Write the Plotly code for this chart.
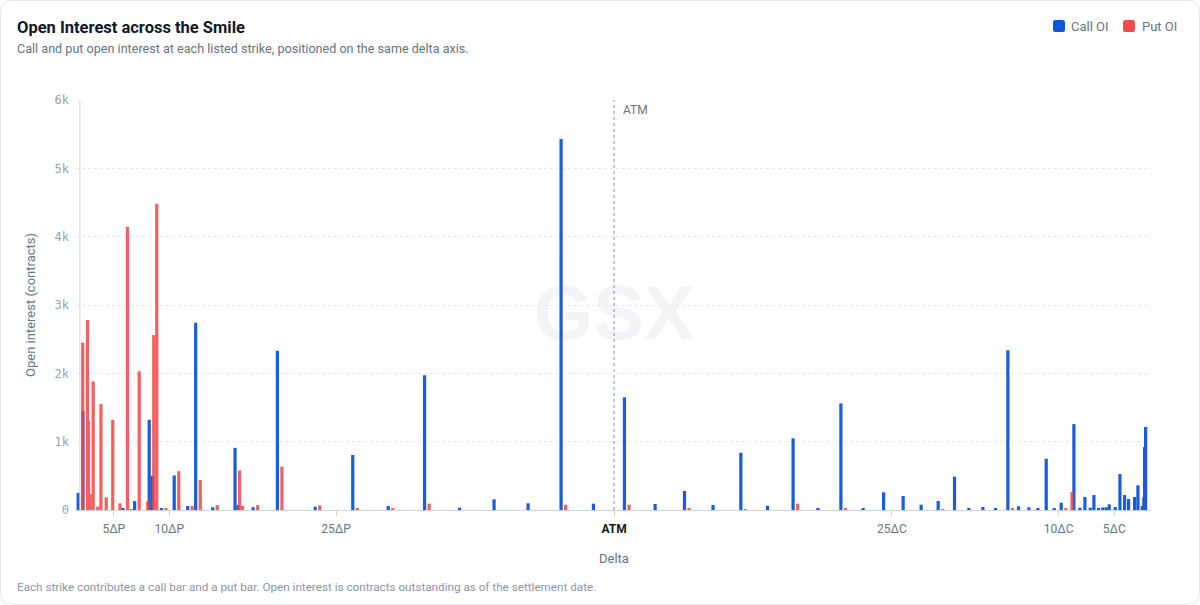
import plotly.graph_objects as go

# Position on the delta axis (5 = 5ΔP, 50 = ATM, 95 = 5ΔC)
DELTA = [2.00, 2.43, 2.52, 2.67, 2.94, 3.35, 3.64, 4.11, 4.70, 5.35,
         6.03, 6.36, 7.08, 7.85, 8.39, 8.66, 9.49, 10.64, 11.85, 12.57,
         14.10, 16.11, 16.38, 17.74, 19.92, 23.32, 26.70, 29.89, 33.16, 36.30,
         39.41, 42.47, 45.44, 48.35, 51.14, 53.90, 56.54, 59.11, 61.61, 64.01,
         66.31, 68.54, 70.61, 72.61, 74.45, 76.21, 77.83, 79.36, 80.83, 82.12,
         83.38, 84.52, 85.63, 86.59, 87.52, 88.33, 89.08, 89.80, 90.43, 90.99,
         91.57, 92.11, 92.56, 93.04, 93.37, 93.79, 94.18, 94.48, 94.75, 95.29,
         95.71, 96.13, 96.49, 97.03, 97.33, 97.72, 97.86, 97.93, 98.02]

CALL_OI = [250, 1445, 0, 0, 0, 0, 0, 0, 0, 0,
           20, 0, 131, 0, 1320, 500, 20, 505, 58, 2740,
           40, 910, 73, 40, 2330, 49, 805, 58, 1972, 34,
           156, 98, 5430, 93, 1650, 88, 278, 73, 838, 63,
           1050, 29, 1560, 15, 259, 205, 78, 132, 488, 29,
           44, 29, 2338, 54, 39, 24, 750, 24, 107, 0,
           1257, 34, 190, 34, 219, 24, 39, 39, 83, 44,
           527, 219, 161, 190, 361, 58, 185, 920, 1215]

PUT_OI = [2450, 2780, 1300, 234, 1880, 50, 1550, 185, 1320, 98,
          4140, 10, 2030, 130, 2560, 4480, 20, 568, 58, 440,
          73, 578, 58, 73, 634, 68, 29, 29, 93, 0,
          0, 0, 78, 0, 78, 0, 29, 0, 10, 0,
          93, 0, 29, 0, 0, 0, 0, 5, 0, 0,
          0, 0, 29, 0, 0, 0, 0, 0, 24, 263,
          0, 0, 0, 0, 0, 0, 0, 0, 0, 0,
          0, 0, 0, 0, 0, 0, 0, 0, 0]

TICK_VALS = [5, 10, 25, 50, 75, 90, 95]
TICK_TEXT = ["5ΔP", "10ΔP", "25ΔP", "<b><span style='color:#111827'>ATM</span></b>",
             "25ΔC", "10ΔC", "5ΔC"]
Y_TICK_VALS = [0, 1000, 2000, 3000, 4000, 5000, 6000]
Y_TICK_TEXT = ["0", "1k", "2k", "3k", "4k", "5k", "6k"]
SERIES_NAMES = ["Call OI", "Put OI"]

BLUE = "#0f55d8"
RED = "#f04545"
FONT = "Roboto"

fig = go.Figure()
fig.add_trace(go.Bar(x=DELTA, y=CALL_OI, name=SERIES_NAMES[0], width=0.29, offset=-0.35,
                     marker=dict(color=BLUE, line=dict(width=0)), opacity=0.95))
fig.add_trace(go.Bar(x=DELTA, y=PUT_OI, name=SERIES_NAMES[1], width=0.29, offset=0.06,
                     marker=dict(color=RED, line=dict(width=0)), opacity=0.85))

L, R, T, B = 76, 49, 100, 95
PW = 1200 - L - R
PH = 605 - T - B


def px_x(p):
    return (p - L) / PW


def px_y(p):
    return (605 - B - p) / PH


def rounded_rect(left, top, right, bottom, r):
    x0, x1 = px_x(left), px_x(right)
    y1, y0 = px_y(top), px_y(bottom)
    rx, ry = r / PW, r / PH
    return (f"M {x0+rx},{y1} L {x1-rx},{y1} Q {x1},{y1} {x1},{y1-ry} L {x1},{y0+ry} "
            f"Q {x1},{y0} {x1-rx},{y0} L {x0+rx},{y0} Q {x0},{y0} {x0},{y0+ry} "
            f"L {x0},{y1-ry} Q {x0},{y1} {x0+rx},{y1} Z")


shapes = [
    # y axis line at first strike
    dict(type="line", xref="x", yref="y", x0=1.95, x1=1.95, y0=0, y1=6000,
         line=dict(color="#cbd5e1", width=1)),
    # ATM line
    dict(type="line", xref="x", yref="y", x0=50, x1=50, y0=0, y1=6000,
         line=dict(color="#a9b3c2", width=1.5, dash="dot")),
    # watermark
    dict(type="rect", xref="x", yref="y", x0=44, x1=56, y0=2500, y1=3500,
         layer="below", line=dict(width=0), fillcolor="rgba(0,0,0,0)",
         label=dict(text="<b>GSX</b>", font=dict(family="Liberation Sans", size=76, color="#f4f4f6"),
                    textposition="middle center")),
    # card border
    dict(type="path", xref="paper", yref="paper", path=rounded_rect(0.5, 0.5, 1199.5, 604.5, 12),
         line=dict(color="#e5e7eb", width=1), layer="below"),
    # legend swatches
    dict(type="path", xref="paper", yref="paper", path=rounded_rect(1053, 20, 1065, 32, 2.5),
         line=dict(width=0), fillcolor=BLUE),
    dict(type="path", xref="paper", yref="paper", path=rounded_rect(1123, 20, 1135, 32, 2.5),
         line=dict(width=0), fillcolor="#ef4b4b"),
]

annotations = [
    dict(text="<b>Open Interest across the Smile</b>", x=px_x(15), y=px_y(27),
         xref="paper", yref="paper", xanchor="left", yanchor="middle", showarrow=False,
         font=dict(family=FONT, size=16.5, color="#0f172a")),
    dict(text="Call and put open interest at each listed strike, positioned on the same delta axis.",
         x=px_x(15), y=px_y(48), xref="paper", yref="paper", xanchor="left", yanchor="middle",
         showarrow=False, font=dict(family=FONT, size=12.6, color="#6b7280")),
    dict(text="Each strike contributes a call bar and a put bar. Open interest is contracts outstanding as of the settlement date.",
         x=px_x(15), y=px_y(587), xref="paper", yref="paper", xanchor="left", yanchor="middle",
         showarrow=False, font=dict(family=FONT, size=11.7, color="#8b95a7")),
    dict(text="Delta", x=px_x(614), y=px_y(558), xref="paper", yref="paper",
         xanchor="center", yanchor="middle", showarrow=False,
         font=dict(family=FONT, size=13, color="#64748b")),
    dict(text="Open interest (contracts)", x=px_x(30), y=px_y(305), xref="paper", yref="paper",
         xanchor="center", yanchor="middle", showarrow=False, textangle=-90,
         font=dict(family=FONT, size=13, color="#64748b")),
    dict(text="ATM", x=px_x(621), y=px_y(110), xref="paper", yref="paper",
         xanchor="left", yanchor="middle", showarrow=False,
         font=dict(family=FONT, size=12, color="#6b7280")),
    dict(text=SERIES_NAMES[0], x=px_x(1069), y=px_y(26), xref="paper", yref="paper",
         xanchor="left", yanchor="middle", showarrow=False,
         font=dict(family=FONT, size=13, color="#64748b")),
    dict(text=SERIES_NAMES[1], x=px_x(1140), y=px_y(26), xref="paper", yref="paper",
         xanchor="left", yanchor="middle", showarrow=False,
         font=dict(family=FONT, size=13, color="#64748b")),
]

fig.update_layout(
    width=1200, height=605,
    margin=dict(l=L, r=R, t=T, b=B, autoexpand=False),
    paper_bgcolor="white", plot_bgcolor="white",
    barmode="overlay",
    showlegend=False,
    xaxis=dict(range=[1.6, 98.3], tickvals=TICK_VALS, ticktext=TICK_TEXT,
               showgrid=False, zeroline=False, showline=True, linecolor="#cbd5e1", linewidth=1,
               ticks="outside", ticklen=5, tickcolor="#cbd5e1", ticklabelstandoff=3,
               tickfont=dict(family=FONT, size=12, color="#64748b")),
    yaxis=dict(range=[0, 6000], tickvals=Y_TICK_VALS, ticktext=Y_TICK_TEXT,
               showgrid=True, gridcolor="#e2e8f0", griddash="dot", gridwidth=1,
               zeroline=False, showline=False, ticks="", ticklabelstandoff=6,
               tickfont=dict(family="DejaVu Sans Mono", size=12, color="#94a3b8")),
    shapes=shapes,
    annotations=annotations,
    font=dict(family=FONT),
)

fig.write_html("out.html", config={"displayModeBar": False},
               post_script="document.body.style.margin='0';")
